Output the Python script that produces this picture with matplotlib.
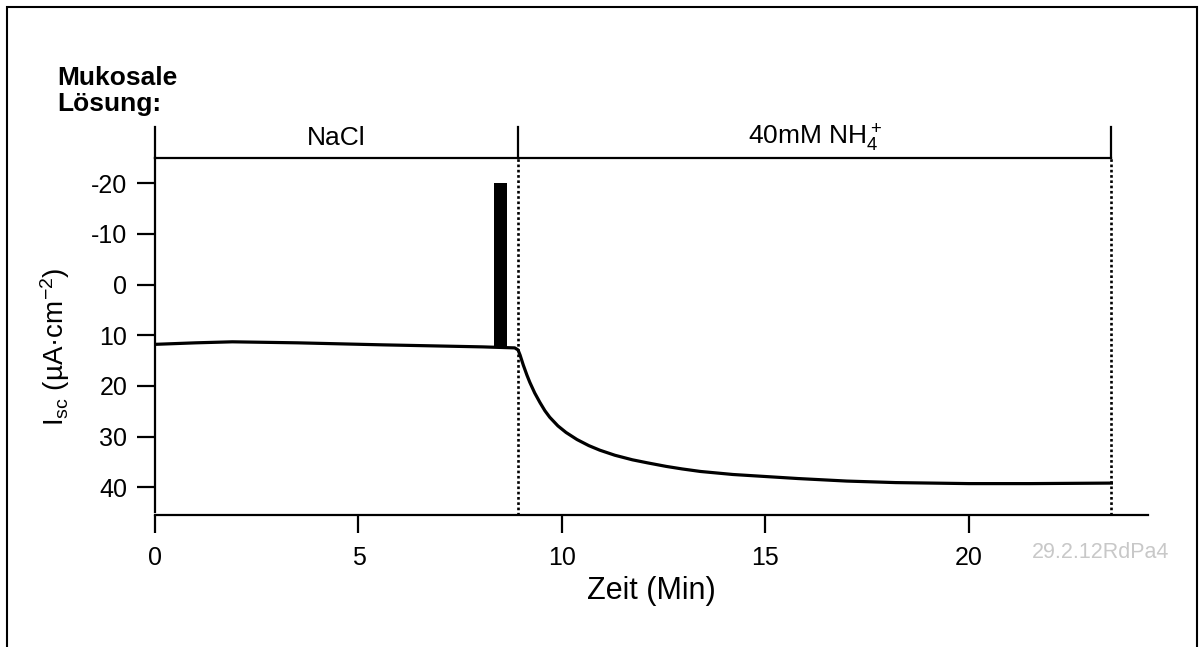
import matplotlib.pyplot as plt
from matplotlib.patches import Rectangle

plt.rcParams['font.family'] = ['Liberation Sans', 'DejaVu Sans']
plt.rcParams['mathtext.fontset'] = 'custom'
plt.rcParams['mathtext.rm'] = 'Liberation Sans'
plt.rcParams['mathtext.it'] = 'Liberation Sans'
plt.rcParams['axes.unicode_minus'] = False

# Short-circuit current trace (min, uA/cm^2), y axis inverted
time = [0, 1.0, 1.9, 3.5, 5.6, 8.05, 8.84, 8.92, 8.97, 9.05, 9.14, 9.21, 9.33,
        9.46, 9.58, 9.7, 9.9, 10.1, 10.37, 10.66, 10.93, 11.3, 11.73, 12.1,
        12.56, 12.95, 13.4, 14.2, 15.0, 15.8, 17.0, 18.2, 20.0, 21.5, 23.5]
isc = [11.8, 11.5, 11.3, 11.5, 11.9, 12.3, 12.5, 12.9, 13.9, 15.9, 17.9, 19.3, 21.4,
       23.3, 24.9, 26.2, 27.9, 29.2, 30.6, 31.8, 32.7, 33.7, 34.6, 35.2,
       35.9, 36.4, 36.9, 37.5, 37.9, 38.3, 38.8, 39.1, 39.3, 39.3, 39.2]

# Stimulus block
bar_t = [8.33, 8.65]
bar_isc = [12.4, -20]

# Solution periods
period_edges = [0, 8.92, 23.5]
period_names = ['NaCl', '40mM NH$_4^+$']

xticks = [0, 5, 10, 15, 20]
yticks = [-20, -10, 0, 10, 20, 30, 40]

fig = plt.figure(figsize=(12.04, 6.47), dpi=100)
ax = fig.add_axes([155/1204, 132/647, 993/1204, 357/647])

ax.plot(time, isc, color='black', lw=2.3, solid_joinstyle='round')
ax.bar(bar_t[0], bar_isc[1] - bar_isc[0], bottom=bar_isc[0],
       width=bar_t[1] - bar_t[0], align='edge', color='black')

ax.set_xlim(0, 24.4)
ax.set_ylim(45.5, -25)

# dotted markers at solution changes
for t in period_edges[1:]:
    ax.plot([t, t], [45.5, -25], color='black', lw=1.9, ls=(0, (1, 1)))

# solution bracket above the trace
ax.plot([period_edges[0], period_edges[-1]], [-25, -25], color='black', lw=1.6, clip_on=False)
for t in period_edges:
    ax.plot([t, t], [-25, -31.1], color='black', lw=1.6, clip_on=False)
for i, name in enumerate(period_names):
    mid = (period_edges[i] + period_edges[i + 1]) / 2
    ax.text(mid, -29.0, name, ha='center', va='center', fontsize=19)

for side in ['top', 'right']:
    ax.spines[side].set_visible(False)
for side in ['left', 'bottom']:
    ax.spines[side].set_linewidth(1.6)
ax.spines['left'].set_bounds(45.0, -25)

ax.set_xticks(xticks)
ax.set_yticks(yticks)
ax.tick_params(direction='out', length=13, width=1.6, labelsize=18)
ax.tick_params(axis='y', pad=7)
ax.tick_params(axis='x', pad=9)

ax.set_xlabel('Zeit (Min)', fontsize=22, labelpad=5)
fig.text(0.046, 1 - 347/647, r'$\mathregular{I_{sc}}$ (µA·cm$^{\mathregular{-2}}$)',
         rotation=90, ha='center', va='center', fontsize=20)

fig.text(57/1204, 1 - 66/647, 'Mukosale\nLösung:', ha='left', va='top',
         fontsize=19, fontweight='bold', linespacing=1.1)
fig.text(1101/1204, 1 - 553/647, '29.2.12RdPa4', ha='center', va='center',
         fontsize=15.5, color='#c8c8c8')

# outer frame
fig.patches.append(Rectangle((7/1204, -0.05), 1190/1204, 1.05 - 7/647,
                             transform=fig.transFigure, fill=False,
                             edgecolor='black', lw=1.5))

fig.savefig('out.png', dpi=100)
